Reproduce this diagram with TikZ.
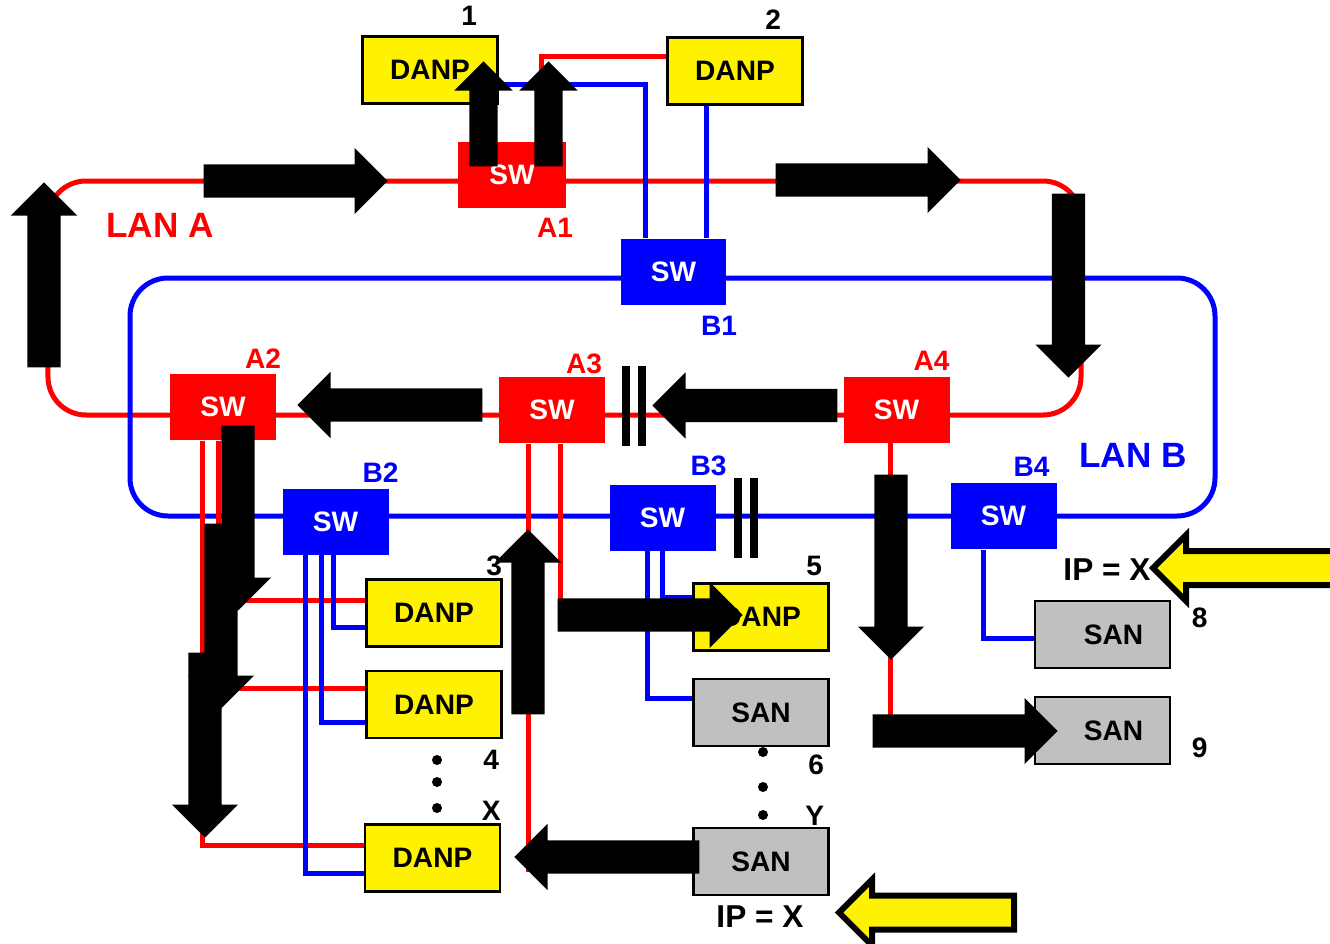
\documentclass[tikz,border=0pt]{standalone}
\usepackage{fontspec}
\setmainfont{Liberation Sans}
\usepackage{xcolor}
\usepackage{tikz}
\usetikzlibrary{shapes.geometric, shapes.arrows, positioning, calc}

\definecolor{sangray}{RGB}{192,192,192}

\begin{document}
\begin{tikzpicture}[
        swa/.style={rectangle, fill=red, text=white, font=\fontsize{8}{9}\selectfont\bfseries, minimum width=1.06cm, minimum height=0.66cm, inner sep=0pt},
        swb/.style={swa, fill=blue},
        danp/.style={rectangle, draw=black, fill=yellow, line width=0.025cm, font=\fontsize{8}{9}\selectfont\bfseries, minimum width=1.35cm, minimum height=0.67cm, inner sep=0pt},
        san/.style={danp, fill=sangray},
        lbla/.style={text=red, font=\fontsize{8}{9}\selectfont\bfseries, inner sep=0pt},
        lblb/.style={lbla, text=blue},
        num/.style={font=\fontsize{8}{9}\selectfont\bfseries, inner sep=0pt},
        lan/.style={line width=0.05cm, rounded corners=0.38cm},
        wirea/.style={draw=red, line width=0.05cm},
        wireb/.style={draw=blue, line width=0.05cm},
        flow/.style={single arrow, fill=black, inner xsep=0pt, inner ysep=0.16cm, single arrow head extend=0.165cm, minimum height=1.85cm},
        hint/.style={single arrow, fill=yellow, draw=black, line width=0.06cm, inner xsep=0pt, inner ysep=0.14cm, single arrow head extend=0.16cm}
    ]
        \useasboundingbox (0,0) rectangle (13.3,-9.44);

        % LAN rings
        \draw[lan, draw=red] (0.48,-1.81) rectangle (10.81,-4.15);
        \draw[lan, draw=blue] (1.30,-2.78) rectangle (12.15,-5.16);
        \node[font=\fontsize{10}{12}\selectfont\bfseries, text=red] (lana) at (1.60,-2.25) {LAN A};
        \node[font=\fontsize{10}{12}\selectfont\bfseries, text=blue] (lanb) at (11.33,-4.55) {LAN B};

        % Switches
        \node[swa, minimum width=1.08cm] (A1) at (5.12,-1.75) {SW};
        \node[swb, minimum width=1.05cm] (B1) at (6.735,-2.72) {SW};
        \node[swa] (A2) at (2.23,-4.07) {SW};
        \node[swa] (A3) at (5.52,-4.10) {SW};
        \node[swa] (A4) at (8.965,-4.095) {SW};
        \node[swb] (B2) at (3.355,-5.215) {SW};
        \node[swb] (B3) at (6.625,-5.175) {SW};
        \node[swb] (B4) at (10.035,-5.16) {SW};

        \node[lbla, anchor=north east] (A1l) at ($(A1.south east)+(0.07,-0.09)$) {A1};
        \node[lbla, anchor=south east] (A2l) at ($(A2.north east)+(0.05,0.04)$) {A2};
        \node[lbla, anchor=south east] (A3l) at ($(A3.north east)+(-0.03,0.02)$) {A3};
        \node[lbla, anchor=south east] (A4l) at ($(A4.north east)+(0,0.045)$) {A4};
        \node[lblb, anchor=north east] (B1l) at ($(B1.south east)+(0.11,-0.10)$) {B1};
        \node[lblb, anchor=south east] (B2l) at ($(B2.north east)+(0.10,0.05)$) {B2};
        \node[lblb, anchor=south east] (B3l) at ($(B3.north east)+(0.11,0.07)$) {B3};
        \node[lblb, anchor=south east] (B4l) at ($(B4.north east)+(-0.07,0.05)$) {B4};

        % Nodes
        \node[danp] (D1) at (4.30,-0.70) {DANP};
        \node[danp] (D2) at (7.35,-0.71) {DANP};
        \node[danp] (D3) at (4.34,-6.13) {DANP};
        \node[danp] (D4) at (4.34,-7.045) {DANP};
        \node[danp] (DX) at (4.325,-8.58) {DANP};
        \node[danp] (D5) at (7.61,-6.17) {DANP};
        \node[san] (S6) at (7.61,-7.125) {SAN};
        \node[san] (SY) at (7.61,-8.615) {SAN};
        \node[san] (S8) at (11.025,-6.345) {\hspace*{0.22cm}SAN};
        \node[san] (S9) at (11.025,-7.305) {\hspace*{0.22cm}SAN};

        \node[num, above left=0.09cm and 0.21cm of D1.north east] (n1) {1};
        \node[num, above left=0.06cm and 0.22cm of D2.north east] (n2) {2};
        \node[num, above left=0.02cm and 0cm of D3.north east] (n3) {3};
        \node[num, below left=0.10cm and 0.03cm of D4.south east] (n4) {4};
        \node[num, above left=0.02cm and 0cm of DX.north east] (nX) {X};
        \node[num, above left=0.06cm and 0.07cm of D5.north east] (n5) {5};
        \node[num, below left=0.07cm and 0.05cm of S6.south east] (n6) {6};
        \node[num, above left=0.01cm and 0.05cm of SY.north east] (nY) {Y};
        \node[num, below right=0.07cm and 0.2cm of S8.north east] (n8) {8};
        \node[num, above right=0.07cm and 0.2cm of S9.south east] (n9) {9};

        % Dots
        \fill (4.37,-7.60) circle (0.05cm);
        \fill (4.37,-7.82) circle (0.05cm);
        \fill (4.37,-8.08) circle (0.05cm);
        \fill (7.63,-7.52) circle (0.05cm);
        \fill (7.63,-7.87) circle (0.05cm);
        \fill (7.63,-8.15) circle (0.05cm);

        % LAN A links
        \draw[wirea] ([xshift=0.29cm]A1.north) |- ([yshift=0.15cm]D2.west);
        \draw[wirea] ([xshift=-0.35cm]A1.north) -- ([xshift=-0.35cm]A1.north |- D1.south);
        \draw[wirea] ([xshift=-0.05cm]A2.south) |- ([yshift=0.13cm]D3.west);
        \draw[wirea] ([xshift=-0.05cm]A2.south) |- ([yshift=0.165cm]D4.west);
        \draw[wirea] ([xshift=-0.21cm]A2.south) |- ([yshift=0.13cm]DX.west);
        \draw[wirea] ([xshift=-0.24cm]A3.south) |- ([yshift=-0.075cm]SY.west);
        \draw[wirea] ([xshift=0.08cm]A3.south) |- ([yshift=-0.11cm]D5.west);
        \draw[wirea] ([xshift=-0.065cm]A4.south) |- (S9.west);

        % LAN B links
        \draw[wireb] ([yshift=-0.15cm]D1.east) -| ([xshift=-0.285cm]B1.north);
        \draw[wireb] ([xshift=-0.29cm]D2.south) -- ([xshift=-0.29cm]D2.south |- B1.north);
        \draw[wireb] ([xshift=-0.025cm]B2.south) |- ([yshift=-0.14cm]D3.west);
        \draw[wireb] ([xshift=-0.145cm]B2.south) |- ([yshift=-0.175cm]D4.west);
        \draw[wireb] ([xshift=-0.305cm]B2.south) |- ([yshift=-0.15cm]DX.west);
        \draw[wireb] (B3.south) |- ([yshift=0.2cm]D5.west);
        \draw[wireb] ([xshift=-0.155cm]B3.south) |- ([yshift=0.145cm]S6.west);
        \draw[wireb] ([xshift=-0.205cm]B4.south) |- ([yshift=-0.035cm]S8.west);

        % Breaks
        \fill (6.22,-3.66) rectangle (6.30,-4.46);
        \fill (6.38,-3.66) rectangle (6.46,-4.46);
        \fill (7.34,-4.78) rectangle (7.42,-5.58);
        \fill (7.50,-4.78) rectangle (7.58,-5.58);

        % Frame flow
        \node[flow, anchor=tail, minimum height=1.84cm] (f1) at (2.03,-1.81) {};
        \node[flow, anchor=tail, rotate=90] (f2) at (0.44,-3.68) {};
        \node[flow, anchor=tail, rotate=90, minimum height=1.05cm, inner ysep=0.135cm, single arrow head extend=0.15cm] (f3) at (4.835,-1.67) {};
        \node[flow, anchor=tail, rotate=90, minimum height=1.05cm, inner ysep=0.135cm, single arrow head extend=0.15cm] (f4) at (5.485,-1.67) {};
        \node[flow, anchor=tail] (f5) at (7.75,-1.80) {};
        \node[flow, anchor=tail, rotate=-90, minimum height=1.84cm] (f6) at (10.685,-1.93) {};
        \node[flow, anchor=tail, rotate=180] (f7) at (8.38,-4.055) {};
        \node[flow, anchor=tail, rotate=180] (f8) at (4.83,-4.05) {};
        \node[flow, anchor=tail, rotate=-90] (f9) at (2.38,-4.25) {};
        \node[flow, anchor=tail, rotate=-90] (f10) at (2.21,-5.23) {};
        \node[flow, anchor=tail, rotate=-90] (f11) at (2.05,-6.52) {};
        \node[flow, anchor=tail, rotate=90] (f12) at (5.28,-7.15) {};
        \node[flow, anchor=tail] (f13) at (5.57,-6.15) {};
        \node[flow, anchor=tail, rotate=180] (f14) at (7.00,-8.57) {};
        \node[flow, anchor=tail, rotate=-90] (f15) at (8.91,-4.74) {};
        \node[flow, anchor=tail] (f16) at (8.72,-7.31) {};

        % Duplicate address
        \node[hint, anchor=tail, rotate=180, minimum height=1.89cm] (hintr) at (13.45,-5.68) {};
        \node[hint, anchor=tail, rotate=180, minimum height=1.75cm] (hintb) at (10.17,-9.125) {};
        \node[font=\fontsize{9}{11}\selectfont\bfseries] (ipr) at (11.07,-5.70) {IP = X};
        \node[font=\fontsize{9}{11}\selectfont\bfseries] (ipb) at (7.60,-9.17) {IP = X};

    \end{tikzpicture}
\end{document}
